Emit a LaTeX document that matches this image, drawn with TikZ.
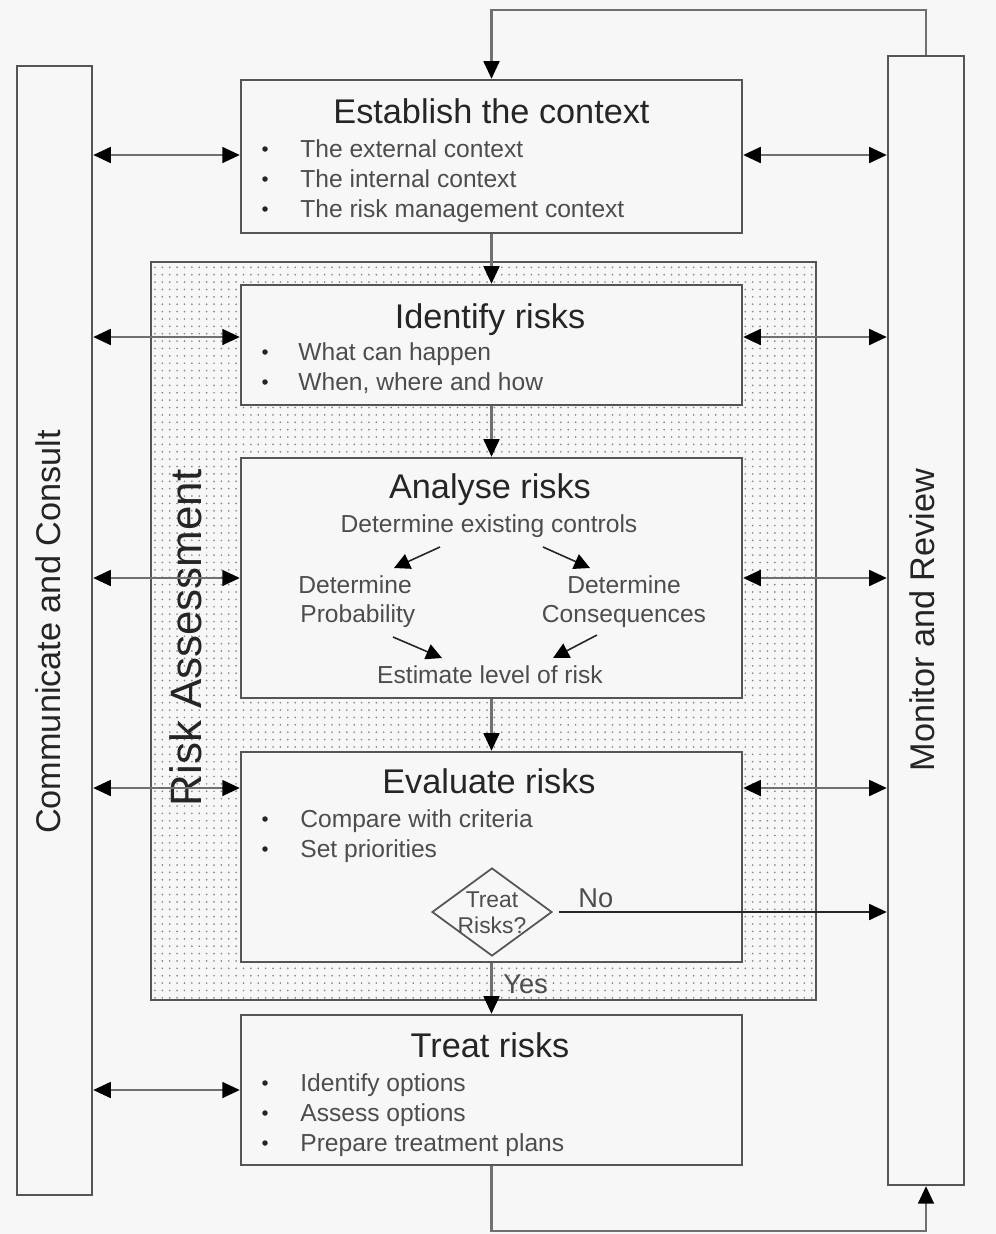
\documentclass[tikz,border=0pt]{standalone}
\usepackage{fontspec}
\setmainfont{Liberation Sans}
\usetikzlibrary{arrows.meta,shapes.geometric,patterns.meta}

\definecolor{paper}{HTML}{F7F7F7}
\definecolor{ink}{HTML}{252525}
\definecolor{bodytext}{HTML}{4D4D4D}
\definecolor{frame}{HTML}{555555}
\definecolor{wire}{HTML}{707070}
\definecolor{speck}{HTML}{8A8A8A}

% light dot screen used for the risk assessment zone
\tikzdeclarepattern{
  name=finedots,
  type=uncolored,
  bounding box={(-0.7pt,-0.7pt) and (0.7pt,0.7pt)},
  tile size={(4.2pt,4.2pt)},
  code={\fill (0pt,0pt) circle (0.55pt);}
}

\begin{document}
\begin{tikzpicture}[x=0.02cm,y=-0.02cm,
  stage/.style={draw=frame, line width=1.4pt, fill=paper, minimum width=10.02cm, inner sep=0pt},
  bar/.style={draw=frame, line width=1.4pt, fill=paper, inner sep=0pt},
  heading/.style={font=\fontsize{19.5}{22}\selectfont, text=ink, anchor=base, inner sep=0pt},
  item/.style={font=\fontsize{14}{16}\selectfont, text=bodytext, anchor=base west, inner sep=0pt},
  itemc/.style={item, anchor=base},
  bulletmark/.style={circle, fill=ink, minimum size=0.11cm, inner sep=0pt},
  sidelabel/.style={font=\fontsize{19.5}{22}\selectfont, text=ink, rotate=90, inner sep=0pt},
  answer/.style={font=\fontsize{15.5}{18}\selectfont, text=bodytext, anchor=base west, inner sep=0pt},
  link/.style={draw=wire, line width=1.3pt, -{Triangle[length=10pt,width=9pt,color=black]}},
  duplex/.style={draw=wire, line width=1.3pt, {Triangle[length=10pt,width=9pt,color=black]}-{Triangle[length=10pt,width=9pt,color=black]}},
  innerlink/.style={draw=ink, line width=0.9pt, -{Triangle[length=9pt,width=9pt,color=black]}}
]
% page
\fill[paper] (0,0) rectangle (996,1234);
\useasboundingbox (0,0) rectangle (996,1234);

% risk assessment zone
\node[draw=frame, line width=1.4pt, minimum width=13.3cm, minimum height=14.76cm, inner sep=0pt,
      preaction={fill=paper}, pattern=finedots, pattern color=speck] (zone) at (483.5,631) {};
\node[font=\fontsize{25}{28}\selectfont, text=ink, rotate=90, inner sep=0pt] (zonelabel) at (186,638) {Risk Assessment};

% side bars
\node[bar, minimum width=1.5cm, minimum height=22.58cm] (lbar) at (54.5,630.5) {};
\node[bar, minimum width=1.52cm, minimum height=22.58cm] (rbar) at (926,620.5) {};
\node[sidelabel] (lbarlabel) at (48,632) {Communicate and Consult};
\node[sidelabel] (rbarlabel) at (922,620) {Monitor and Review};

% process stages
\node[stage, minimum height=3.06cm] (est) at (491.5,156.5) {};
\node[stage, minimum height=2.4cm] (ident) at (491.5,345) {};
\node[stage, minimum height=4.8cm] (anal) at (491.5,578) {};
\node[stage, minimum height=4.2cm] (eval) at (491.5,857) {};
\node[stage, minimum height=3.0cm] (treat) at (491.5,1090) {};

% establish the context
\node[heading] (estT) at (491.5,123) {Establish the context};
\node[bulletmark] (estb1) at (265,149) {};
\node[bulletmark] (estb2) at (265,179) {};
\node[bulletmark] (estb3) at (265,209) {};
\node[item] (est1) at (300,157) {The external context};
\node[item] (est2) at (300,187) {The internal context};
\node[item] (est3) at (300,217) {The risk management context};

% identify risks
\node[heading] (identT) at (490,328) {Identify risks};
\node[bulletmark] (identb1) at (265,352) {};
\node[bulletmark] (identb2) at (265,382) {};
\node[item] (ident1) at (298,360) {What can happen};
\node[item] (ident2) at (298,390) {When, where and how};

% analyse risks
\node[heading] (analT) at (490,498) {Analyse risks};
\node[itemc] (ctrl) at (489,532) {Determine existing controls};
\node[item] (prob1) at (298,593) {Determine};
\node[item] (prob2) at (300,622) {Probability};
\node[itemc] (cons1) at (624,593) {Determine};
\node[itemc] (cons2) at (624,622) {Consequences};
\node[itemc] (level) at (490,683) {Estimate level of risk};
\coordinate (ctrlL) at (440,547);
\coordinate (ctrlR) at (543,547);
\coordinate (probIn) at (394,568);
\coordinate (consIn) at (590,568);
\coordinate (probOut) at (393,637);
\coordinate (consOut) at (597,635);
\coordinate (levelL) at (442,658);
\coordinate (levelR) at (553,658);
\draw[innerlink] (ctrlL) -- (probIn);
\draw[innerlink] (ctrlR) -- (consIn);
\draw[innerlink] (probOut) -- (levelL);
\draw[innerlink] (consOut) -- (levelR);

% evaluate risks
\node[heading] (evalT) at (489,793) {Evaluate risks};
\node[bulletmark] (evalb1) at (265,819) {};
\node[bulletmark] (evalb2) at (265,849) {};
\node[item] (eval1) at (300,827) {Compare with criteria};
\node[item] (eval2) at (300,857) {Set priorities};
\node[diamond, draw=frame, line width=1pt, minimum width=2.4cm, minimum height=1.76cm, inner sep=0pt] (ask) at (492,912) {};
\node[font=\fontsize{13}{14.7}\selectfont, text=bodytext, align=center, inner sep=0pt] (asktext) at (492,913) {Treat\\Risks?};

% treat risks
\node[heading] (treatT) at (490,1057) {Treat risks};
\node[bulletmark] (treatb1) at (265,1083) {};
\node[bulletmark] (treatb2) at (265,1113) {};
\node[bulletmark] (treatb3) at (265,1143) {};
\node[item] (treat1) at (300,1091) {Identify options};
\node[item] (treat2) at (300,1121) {Assess options};
\node[item] (treat3) at (300,1151) {Prepare treatment plans};

% main flow
\draw[link] (est.south) -- (ident.north);
\draw[link] (ident.south) -- (anal.north);
\draw[link] (anal.south) -- (eval.north);
\draw[link] (eval.south) -- (treat.north);
\node[answer] (yes) at (503,993) {Yes};
\draw[link, draw=black!85] ([xshift=0.12cm]ask.east) -- (rbar.west |- ask.east);
\node[answer] (no) at (578,907) {No};

% monitoring loop
\draw[link] (rbar.north) -- ++(0,-45) -| (est.north);
\draw[link] (treat.south) -- ++(0,65) -| (rbar.south);

% communication links
\coordinate (estL) at ([yshift=0.03cm]est.west);
\coordinate (estR) at ([yshift=0.03cm]est.east);
\coordinate (identL) at ([yshift=0.16cm]ident.west);
\coordinate (identR) at ([yshift=0.16cm]ident.east);
\coordinate (evalL) at ([yshift=1.38cm]eval.west);
\coordinate (evalR) at ([yshift=1.38cm]eval.east);
\draw[duplex] (lbar.east |- estL) -- (estL);
\draw[duplex] (lbar.east |- identL) -- (identL);
\draw[duplex] (lbar.east |- anal.west) -- (anal.west);
\draw[duplex] (lbar.east |- evalL) -- (evalL);
\draw[duplex] (lbar.east |- treat.west) -- (treat.west);
\draw[duplex] (estR) -- (rbar.west |- estR);
\draw[duplex] (identR) -- (rbar.west |- identR);
\draw[duplex] (anal.east) -- (rbar.west |- anal.east);
\draw[duplex] (evalR) -- (rbar.west |- evalR);
\end{tikzpicture}
\end{document}
